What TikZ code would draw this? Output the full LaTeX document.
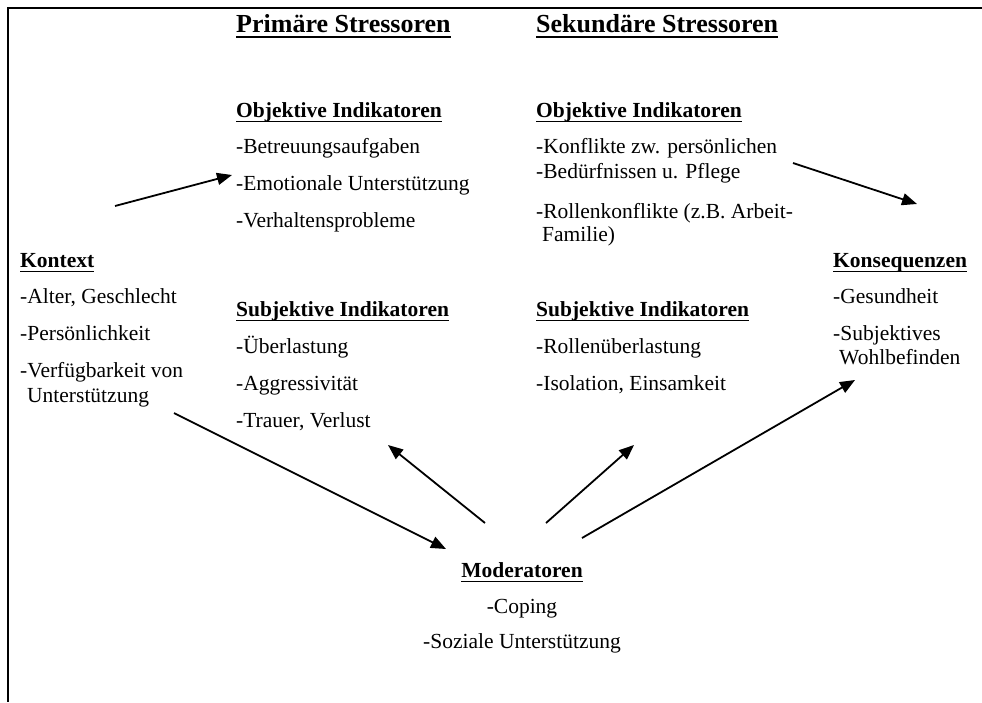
\documentclass[tikz,border=0pt]{standalone}
\usepackage{fontspec}
\setmainfont{Liberation Serif}
\usetikzlibrary{arrows.meta}
\begin{document}
\begin{tikzpicture}[x=1pt,y=-1pt,
  txt/.style={anchor=base west,inner sep=0pt,font=\fontsize{21.5}{24}\selectfont},
  hd/.style={anchor=base west,inner sep=0pt,font=\fontsize{21.5}{24}\selectfont\bfseries},
  big/.style={anchor=base west,inner sep=0pt,font=\fontsize{26}{30}\selectfont\bfseries},
  ctr/.style={anchor=base},
  arr/.style={line width=1.8pt,-{Triangle[length=15pt,width=12pt]}},
  ul/.style={line width=1.6pt},
  frame/.style={line width=1.8pt}]
\useasboundingbox (0,0) rectangle (982,702);
\draw[frame] (982,8) -- (8,8) -- (8,702);

% headings
\node[big] (prim) at (236,32) {Primäre Stressoren};
\node[big] (sek) at (536,32) {Sekundäre Stressoren};
\draw[ul] ([yshift=-5pt]prim.base west) -- ([yshift=-5pt]prim.base east);
\draw[ul] ([yshift=-5pt]sek.base west) -- ([yshift=-5pt]sek.base east);

% primary objective
\node[hd] (po) at (236,117) {Objektive Indikatoren};
\draw[ul] ([yshift=-4.5pt]po.base west) -- ([yshift=-4.5pt]po.base east);
\node[txt] (po1) at (236,153) {-Betreuungsaufgaben};
\node[txt] (po2) at (236,190) {-Emotionale Unterstützung};
\node[txt] (po3) at (236,227) {-Verhaltensprobleme};

% secondary objective
\node[hd] (so) at (536,117) {Objektive Indikatoren};
\draw[ul] ([yshift=-4.5pt]so.base west) -- ([yshift=-4.5pt]so.base east);
\node[txt] (so1) at (536,153) {-Konflikte zw. persönlichen};
\node[txt] (so2) at (536,178) {-Bedürfnissen u. Pflege};
\node[txt] (so3) at (536,218) {-Rollenkonflikte (z.B. Arbeit-};
\node[txt] (so4) at (542,241) {Familie)};

% context
\node[hd] (ko) at (20,267) {Kontext};
\draw[ul] ([yshift=-4.5pt]ko.base west) -- ([yshift=-4.5pt]ko.base east);
\node[txt] (ko1) at (20,303) {-Alter, Geschlecht};
\node[txt] (ko2) at (20,340) {-Persönlichkeit};
\node[txt] (ko3) at (20,377) {-Verfügbarkeit von};
\node[txt] (ko4) at (27,402) {Unterstützung};

% primary subjective
\node[hd] (ps) at (236,316) {Subjektive Indikatoren};
\draw[ul] ([yshift=-4.5pt]ps.base west) -- ([yshift=-4.5pt]ps.base east);
\node[txt] (ps1) at (236,353) {-Überlastung};
\node[txt] (ps2) at (236,390) {-Aggressivität};
\node[txt] (ps3) at (236,427) {-Trauer, Verlust};

% secondary subjective
\node[hd] (ss) at (536,316) {Subjektive Indikatoren};
\draw[ul] ([yshift=-4.5pt]ss.base west) -- ([yshift=-4.5pt]ss.base east);
\node[txt] (ss1) at (536,353) {-Rollenüberlastung};
\node[txt] (ss2) at (536,390) {-Isolation, Einsamkeit};

% consequences
\node[hd] (kq) at (833,267) {Konsequenzen};
\draw[ul] ([yshift=-4.5pt]kq.base west) -- ([yshift=-4.5pt]kq.base east);
\node[txt] (kq1) at (833,303) {-Gesundheit};
\node[txt] (kq2) at (833,340) {-Subjektives};
\node[txt] (kq3) at (839,364) {Wohlbefinden};

% moderators
\node[hd,ctr] (mo) at (522,577) {Moderatoren};
\draw[ul] ([yshift=-4.5pt]mo.base west) -- ([yshift=-4.5pt]mo.base east);
\node[txt,ctr] (mo1) at (522,613) {-Coping};
\node[txt,ctr] (mo2) at (522,648) {-Soziale Unterstützung};

% arrow end points
\coordinate (a1s) at (115,206);
\coordinate (a1e) at (232,175);
\coordinate (a2s) at (793,163);
\coordinate (a2e) at (917,204);
\coordinate (a3s) at (174,413);
\coordinate (a3e) at (446,549);
\coordinate (a4s) at (485,523);
\coordinate (a4e) at (388,445);
\coordinate (a5s) at (546,523);
\coordinate (a5e) at (634,445);
\coordinate (a6s) at (582,538);
\coordinate (a6e) at (855,380);

\draw[arr] (a1s) -- (a1e);
\draw[arr] (a2s) -- (a2e);
\draw[arr] (a3s) -- (a3e);
\draw[arr] (a4s) -- (a4e);
\draw[arr] (a5s) -- (a5e);
\draw[arr] (a6s) -- (a6e);
\end{tikzpicture}
\end{document}
